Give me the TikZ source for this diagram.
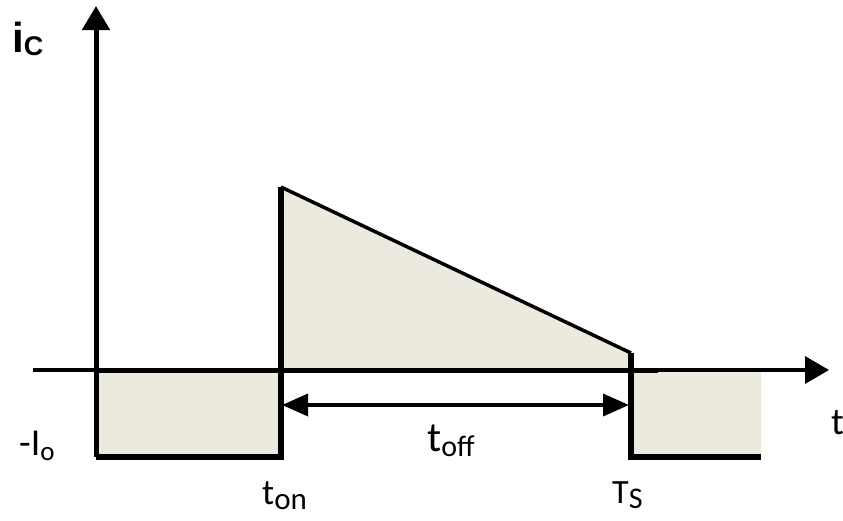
\documentclass[tikz,border=0pt]{standalone}
\usepackage{fontspec}
\setmainfont{Carlito}
\newfontfamily\arialb{Liberation Sans}[BoldFont={* Bold}]
\usetikzlibrary{arrows.meta}
\definecolor{beige}{RGB}{236,233,223}
\newcommand{\fs}[1]{\fontsize{#1}{#1}\selectfont}
\tikzset{
  thickln/.style={line width=6pt, line join=miter, line cap=butt},
  thinln/.style={line width=3.5pt},
  lab/.style={inner sep=0pt, anchor=base west, text=black},
  axtip/.style={-{Triangle[length=24pt,width=27pt]}},
  dimtip/.style={{Triangle[length=26pt,width=22pt]}-{Triangle[length=26pt,width=22pt]}}
}
\begin{document}
\begin{tikzpicture}[x=1pt,y=-1pt]
\useasboundingbox (0,0) rectangle (843,520);
% coordinates
\coordinate (O) at (96,370);
\coordinate (ytop) at (96,6);
\coordinate (xl) at (33,370);
\coordinate (xr) at (829,370);
\coordinate (lb) at (96,457);
\coordinate (onb) at (281,457);
\coordinate (ont) at (281,187);
\coordinate (on0) at (281,370);
\coordinate (tsp) at (631,353);
\coordinate (ts0) at (631,370);
\coordinate (tsb) at (631,457);
\coordinate (rb) at (761,457);
\coordinate (rt) at (761,370);
\coordinate (thk) at (658,370);
\coordinate (dl) at (282,405);
\coordinate (dr) at (629,405);
% fills
\fill[beige] (O) rectangle (onb);
\fill[beige] (on0) -- (ont) -- (tsp) -- (ts0) -- cycle;
\fill[beige] (ts0) rectangle (rb);
% axes
\draw[thinln, axtip] (xl) -- (xr);
\draw[line width=5pt] (O) -- (thk);
\draw[line width=5pt, axtip] (lb) -- (ytop);
% waveform
\draw[thickln] (lb) -- (onb) -- (ont);
\draw[line width=3.5pt] (ont) -- (tsp);
\draw[thickln] (tsp) -- (tsb) -- (rb);
% dimension arrow
\draw[line width=3.5pt, dimtip] (dl) -- (dr);
% labels
\node[lab] (ic) at (12,52) {\arialb\bfseries\fs{42}i\raisebox{-3pt}{\fs{27}C}};
\node[lab] (io) at (19,455) {\fs{38}-I\raisebox{-5pt}{\fs{27}o}};
\node[lab] (ton) at (262,504) {\fs{36}t\raisebox{-5pt}{\fs{31}on}};
\node[lab] (toff) at (427,451) {\fs{42}t\raisebox{-5pt}{\fs{30}off}};
\node[lab] (tsl) at (612,503) {\fs{34}T\raisebox{-5pt}{\fs{30}S}};
\node[lab] (tl) at (831,434) {\fs{38}t};
\end{tikzpicture}
\end{document}
